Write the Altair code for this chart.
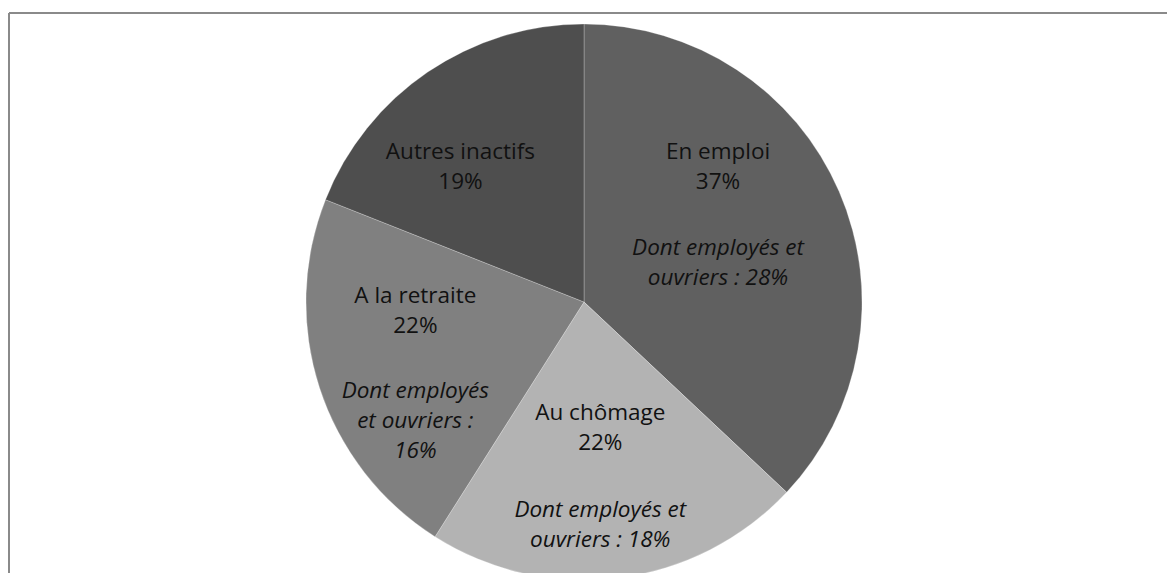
import altair as alt
import pandas as pd

categories = ["En emploi", "Au chômage", "A la retraite", "Autres inactifs"]
values = [37, 22, 22, 19]
sub_labels = [
    "Dont employés et\nouvriers : 28%",
    "Dont employés et\nouvriers : 18%",
    "Dont employés\net ouvriers :\n16%",
    "",
]
colors = ["#606060", "#b3b3b3", "#808080", "#4e4e4e"]

df = pd.DataFrame({
    "cat": categories,
    "value": values,
    "idx": list(range(len(categories))),
    "main": [f"{c}\n{v}%" for c, v in zip(categories, values)],
    "sub": sub_labels,
})

W, H = 1158, 560
CX, CY = 575, 289
R = 278
FONT = "Open Sans"
FS = 22.5

base = alt.Chart(df)

theta_scale = alt.Scale(domain=[0, 100])

arcs = base.mark_arc(x=CX, y=CY, radius=R, stroke="#ffffff", strokeOpacity=0.25, strokeWidth=1).encode(
    theta=alt.Theta("value:Q", stack=True, scale=theta_scale),
    order=alt.Order("idx:Q"),
    color=alt.Color("cat:N", scale=alt.Scale(domain=categories, range=colors), legend=None),
)

stacked = base.transform_window(
    cum="sum(value)", sort=[alt.SortField("idx")], frame=[None, 0]
).transform_calculate(mid="datum.cum - datum.value / 2")

# label offsets (style) relative to the mid-angle anchor at radius 170 (first line position)
offsets = {
    "En emploi": (-22, -82, 14),
    "Au chômage": (-5, -58, 39),
    "A la retraite": (-7, -59, 36),
    "Autres inactifs": (-28, -9, 0),
}

layers = [arcs]
for cat in categories:
    dx, dy_main, dy_sub = offsets[cat]
    flt = stacked.transform_filter(alt.datum.cat == cat)
    layers.append(
        flt.mark_text(x=CX, y=CY, radius=170, dx=dx, dy=dy_main, font=FONT, fontSize=FS,
                      lineBreak="\n", lineHeight=30, color="#111111", baseline="middle",
                      align="center").encode(
            theta=alt.Theta("mid:Q", stack=None, scale=theta_scale),
            text="main:N",
        )
    )
    if cat != "Autres inactifs":
        layers.append(
            flt.mark_text(x=CX, y=CY, radius=170, dx=dx, dy=dy_sub, font=FONT, fontSize=FS,
                          fontStyle="italic", lineBreak="\n", lineHeight=30, color="#111111",
                          baseline="middle", align="center").encode(
                theta=alt.Theta("mid:Q", stack=None, scale=theta_scale),
                text="sub:N",
            )
        )

one = alt.Data(values=[{"a": 1}])
top_rule = alt.Chart(one).mark_rule(color="#8a8a8a", strokeWidth=2).encode(
    x=alt.value(0), x2=alt.value(W), y=alt.value(0)
)
left_rule = alt.Chart(one).mark_rule(color="#8a8a8a", strokeWidth=2).encode(
    x=alt.value(0), y=alt.value(0), y2=alt.value(H)
)
layers += [top_rule, left_rule]

chart = alt.layer(*layers).properties(
    width=W, height=H,
    padding={"left": 1, "top": 5, "right": 0, "bottom": 0},
    autosize=alt.AutoSizeParams(type="none"),
).configure_view(stroke=None).configure(background="#ffffff")

chart.save("out.html", embed_options={"renderer": "svg", "actions": False})
